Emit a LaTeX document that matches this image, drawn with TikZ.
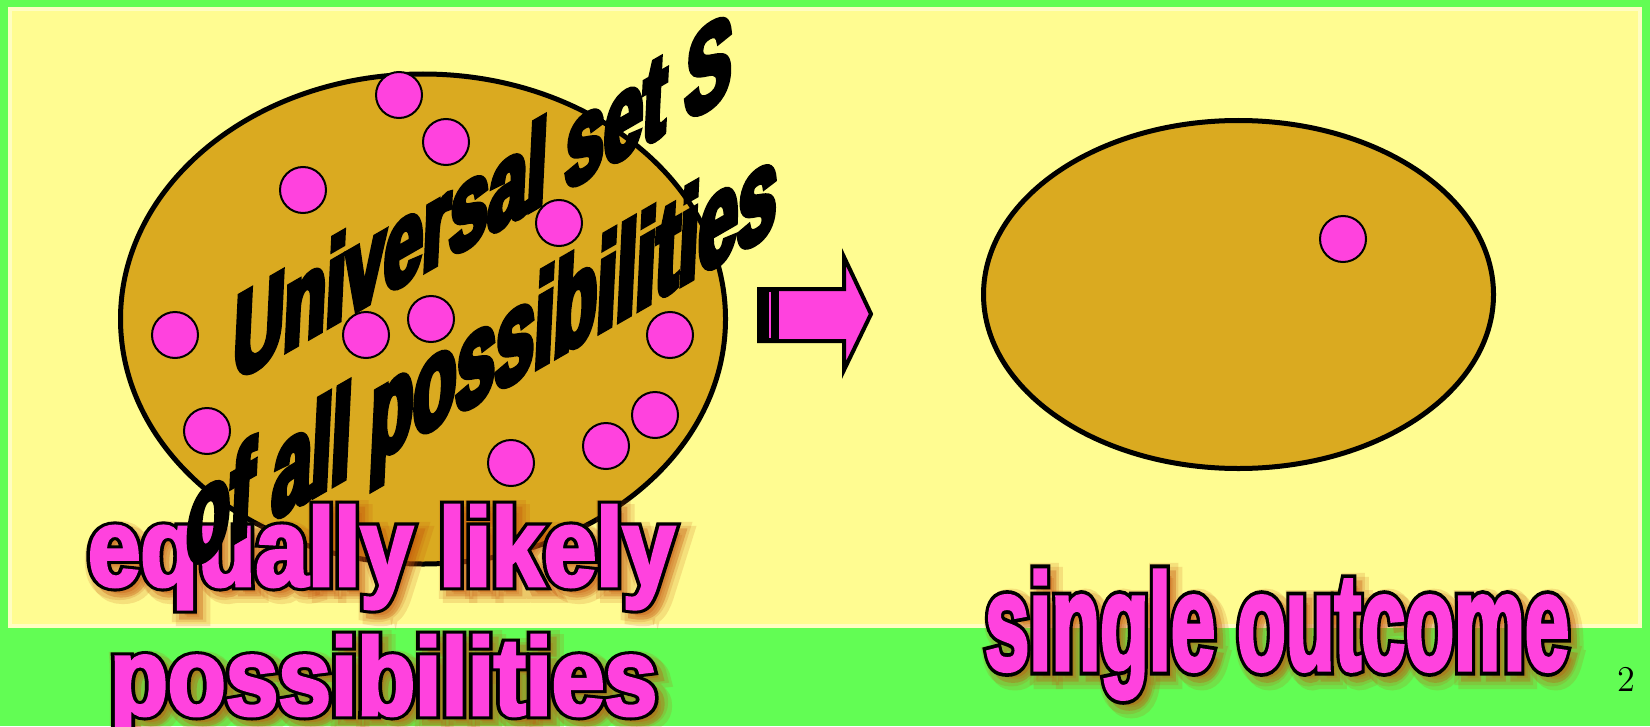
\documentclass[tikz,border=0pt]{standalone}
\usepackage{fontspec}
\usepackage{graphicx}
\usetikzlibrary{shapes.geometric}
\newfontfamily\ffillp{Liberation Sans Bold}[FakeStretch=0.7,FakeBold=2.5]
\newfontfamily\foutl{Liberation Sans Bold}[FakeStretch=0.7,FakeBold=8]
\newfontfamily\fshad{Liberation Sans Bold}[FakeStretch=0.7,FakeBold=16]
\newfontfamily\fblk{Liberation Sans Bold}[FakeStretch=0.65,FakeBold=5]
\newlength\pxu \setlength\pxu{0.4pt}
\definecolor{greenbg}{RGB}{98,253,84}
\definecolor{yellowbg}{RGB}{255,252,145}
\definecolor{goldc}{RGB}{218,170,32}
\definecolor{pinkc}{RGB}{255,66,222}
\definecolor{shadowc}{RGB}{195,80,10}
\tikzset{
  txt/.style={inner sep=0pt, outer sep=0pt, anchor=base west},
  slanttxt/.style={txt, text=black, yslant=0.575, xslant=0.05},
  dot/.style={circle, fill=pinkc, draw=black, line width=2\pxu, minimum size=46\pxu, inner sep=0pt},
  setell/.style={ellipse, fill=goldc, draw=black, line width=5\pxu, inner sep=0pt},
}
\newcommand\pinklabel[6]{% name, x, baseline y, width, height, text
  \begin{scope}[opacity=0.16]
    \node[txt, text=shadowc] (#1-s1) at ({#2+8},{#3+8}) {\resizebox{#4\pxu}{#5\pxu}{\fshad #6}};
    \node[txt, text=shadowc] (#1-s2) at ({#2+4},{#3+4}) {\resizebox{#4\pxu}{#5\pxu}{\fshad #6}};
  \end{scope}
  \begin{scope}[opacity=0.3]
    \node[txt, text=shadowc] (#1-s3) at ({#2+6},{#3+6}) {\resizebox{#4\pxu}{#5\pxu}{\foutl #6}};
  \end{scope}
  \node[txt, text=black] (#1-o) at (#2,#3) {\resizebox{#4\pxu}{#5\pxu}{\foutl #6}};
  \node[txt, text=pinkc] (#1) at (#2,#3) {\resizebox{#4\pxu}{#5\pxu}{\ffillp #6}};
}
\begin{document}
\begin{tikzpicture}[x=0.4pt,y=-0.4pt]
\useasboundingbox (0,0) rectangle (1650,726);
% backgrounds
\fill[greenbg] (0,0) rectangle (1650,726);
\fill[yellowbg] (8,7) rectangle (1642,628);
\draw[white, opacity=0.45, line width=4\pxu] (10,9) rectangle (1640,626);
% ellipses
\node[setell, minimum width=605\pxu, minimum height=490\pxu] (setS) at (423,319) {};
\node[setell, minimum width=510\pxu, minimum height=348\pxu] (outc) at (1238.5,294.5) {};
% pink labels
\pinklabel{eq}{88}{586}{587}{81}{equally likely}
\pinklabel{poss}{110}{715}{547}{80}{possibilities}
\pinklabel{single}{985}{670}{584}{100}{single outcome}
% black slanted labels
\node[slanttxt] (univ) at (232,382)
  {\resizebox{498\pxu}{86\pxu}{\fblk Universal set S}};
\node[slanttxt] (ofall) at (185,570)
  {\resizebox{590\pxu}{94\pxu}{\fblk of all possibilities}};
% dots
\node[dot] (d1) at (399,95) {};
\node[dot] (d2) at (446,142) {};
\node[dot] (d3) at (303,190) {};
\node[dot] (d4) at (559,223) {};
\node[dot] (d5) at (175,335) {};
\node[dot] (d6) at (366,335) {};
\node[dot] (d7) at (431,319) {};
\node[dot] (d8) at (670,335) {};
\node[dot] (d9) at (207,431) {};
\node[dot] (d10) at (655,415) {};
\node[dot] (d11) at (511,463) {};
\node[dot] (d12) at (606,446) {};
\node[dot] (d13) at (1343,239) {};
% block arrow
\draw[fill=pinkc, draw=black, line width=4\pxu, line join=miter]
  (759,289) -- (844,289) -- (844,257) -- (871,314) -- (844,370) -- (844,341) -- (759,341) -- cycle;
\fill[black] (757,287) rectangle (779,343);
\draw[pinkc, line width=1.6\pxu] (770,292) -- (770,338);
% page number
\node[inner sep=0pt] (pagenum) at (1626,679) {\fontsize{14.5}{17}\selectfont 2};
\end{tikzpicture}
\end{document}
